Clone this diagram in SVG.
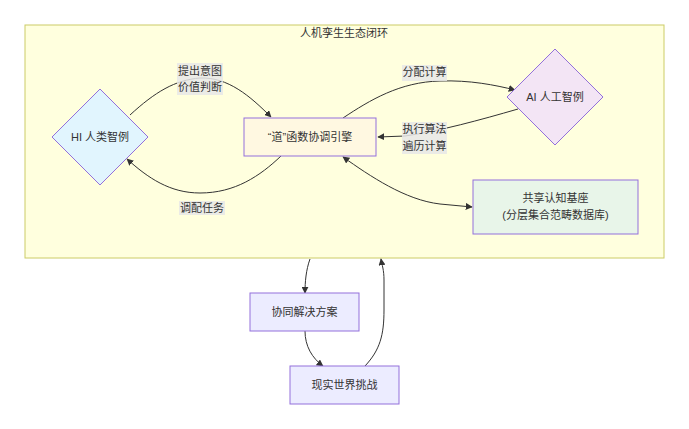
<svg xmlns="http://www.w3.org/2000/svg" width="689" height="429" viewBox="0 0 689 429">
<defs>
<style>
text{font-family:"Liberation Sans","Noto Sans CJK SC",sans-serif;font-size:11px;fill:#333;text-anchor:middle;dominant-baseline:central}
.node{stroke:#9370DB;stroke-width:1}
.edge{fill:none;stroke:#333;stroke-width:1}
.lbl{fill:#e8e8e8;opacity:0.85}
</style>
<marker id="ah" viewBox="0 0 10 10" refX="9" refY="5" markerWidth="7" markerHeight="7" orient="auto-start-reverse" markerUnits="userSpaceOnUse">
<path d="M0,0 L10,5 L0,10 z" fill="#333"/>
</marker>
</defs>
<rect width="689" height="429" fill="#ffffff"/>
<g id="cluster">
<rect x="25" y="25" width="639" height="233" fill="#ffffde" stroke="#cccc66" stroke-width="1"/>
<text x="344" y="33">人机孪生生态闭环</text>
</g>
<g id="connectors">
<path class="edge" d="M130,115 C155,92 175,80 200,78 C228,77 250,96 271,117" marker-end="url(#ah)"/>
<path class="edge" d="M281,156 C260,176 235,193 200,193 C170,193 148,178 127,159" marker-end="url(#ah)"/>
<path class="edge" d="M343,118 C370,100 400,82 440,81 C470,80 495,85 515,90" marker-end="url(#ah)"/>
<path class="edge" d="M518,109 C480,120 440,131 405,136 L378,137" marker-end="url(#ah)"/>
<path class="edge" d="M343,157 C370,176 405,200 440,204 L472,207" marker-start="url(#ah)" marker-end="url(#ah)"/>
<path class="edge" d="M310,259 C306,270 305,282 305,293" marker-end="url(#ah)"/>
<path class="edge" d="M305,331 C305,346 312,358 323,366" marker-end="url(#ah)"/>
<path class="edge" d="M365,366 C380,350 384,335 384,310 L384,280 C384,270 382,265 381,259" marker-end="url(#ah)"/>
<rect class="lbl" x="177" y="63" width="46" height="32"/>
<text x="200" y="71">提出意图</text>
<text x="200" y="87">价值判断</text>
<rect class="lbl" x="179" y="201" width="46" height="14"/>
<text x="202" y="208">调配任务</text>
<rect class="lbl" x="402" y="65" width="45" height="16"/>
<text x="424.5" y="72">分配计算</text>
<rect class="lbl" x="402" y="122" width="45" height="32"/>
<text x="424.5" y="129">执行算法</text>
<text x="424.5" y="146">遍历计算</text>
</g>
<g id="hi">
<polygon class="node" points="100,89 148,137 100,185 52,137" fill="#e1f5fe"/>
<text x="100" y="137">HI 人类智例</text>
</g>
<g id="engine">
<rect class="node" x="244" y="118" width="132" height="38" fill="#fff8e1"/>
<text x="310" y="137">“道”函数协调引擎</text>
</g>
<g id="ai">
<polygon class="node" points="555,49 603,97 555,145 507,97" fill="#f3e5f5"/>
<text x="555" y="97">AI 人工智例</text>
</g>
<g id="shared">
<rect class="node" x="473" y="180" width="165" height="54" fill="#e8f5e9"/>
<text x="555.5" y="198">共享认知基座</text>
<text x="555.5" y="215">(分层集合范畴数据库)</text>
</g>
<g id="solution">
<rect class="node" x="250" y="293" width="109" height="38" fill="#ececff"/>
<text x="304.5" y="312">协同解决方案</text>
</g>
<g id="challenge">
<rect class="node" x="290" y="366" width="109" height="38" fill="#ececff"/>
<text x="344.5" y="385">现实世界挑战</text>
</g>
</svg>
